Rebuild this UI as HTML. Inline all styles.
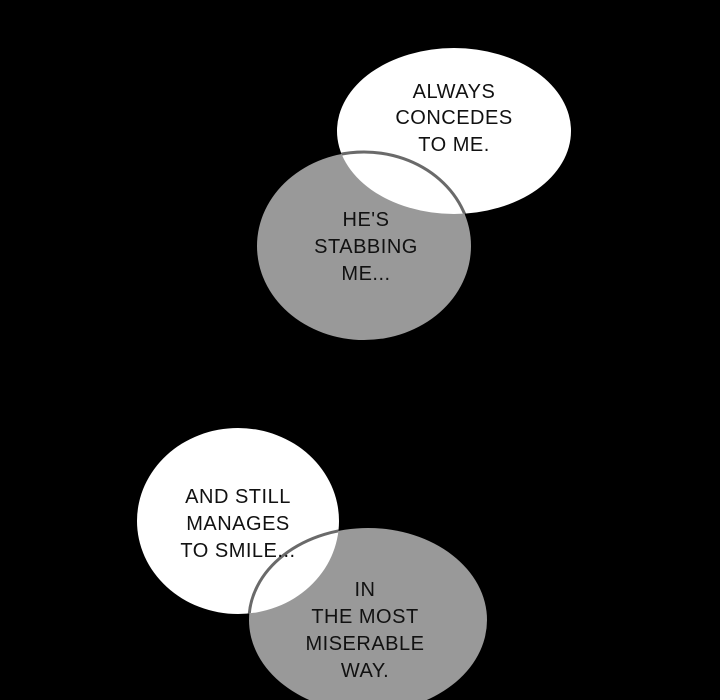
<!DOCTYPE html>
<html><head><meta charset="utf-8"><style>
html,body{margin:0;padding:0;background:#000;}
svg{display:block}
text{font-family:"Liberation Sans",sans-serif;font-size:20px;font-weight:normal;fill:#111;text-anchor:middle;letter-spacing:0.5px}
</style></head><body>
<svg width="720" height="700" viewBox="0 0 720 700">
<defs>
<clipPath id="c1"><ellipse cx="454" cy="131" rx="117" ry="83"/></clipPath>
<clipPath id="c2"><ellipse cx="238" cy="521" rx="101" ry="93"/></clipPath>
</defs>
<rect width="720" height="700" fill="#000"/>
<ellipse cx="364" cy="246" rx="107" ry="94" fill="#999"/>
<ellipse cx="454" cy="131" rx="117" ry="83" fill="#fff"/>
<ellipse cx="364" cy="246" rx="107" ry="94" fill="none" stroke="#6a6a6a" stroke-width="3" clip-path="url(#c1)"/>
<text x="454" y="98">ALWAYS</text>
<text x="454" y="124">CONCEDES</text>
<text x="454" y="151">TO ME.</text>
<text x="366" y="226">HE'S</text>
<text x="366" y="253">STABBING</text>
<text x="366" y="280">ME...</text>

<ellipse cx="368" cy="620" rx="119" ry="92" fill="#999"/>
<ellipse cx="238" cy="521" rx="101" ry="93" fill="#fff"/>
<ellipse cx="368" cy="620" rx="119" ry="92" fill="none" stroke="#6a6a6a" stroke-width="3" clip-path="url(#c2)"/>
<text x="238" y="503">AND STILL</text>
<text x="238" y="530">MANAGES</text>
<text x="238" y="557">TO SMILE...</text>
<text x="365" y="596">IN</text>
<text x="365" y="623">THE MOST</text>
<text x="365" y="650">MISERABLE</text>
<text x="365" y="677">WAY.</text>
</svg>
</body></html>
